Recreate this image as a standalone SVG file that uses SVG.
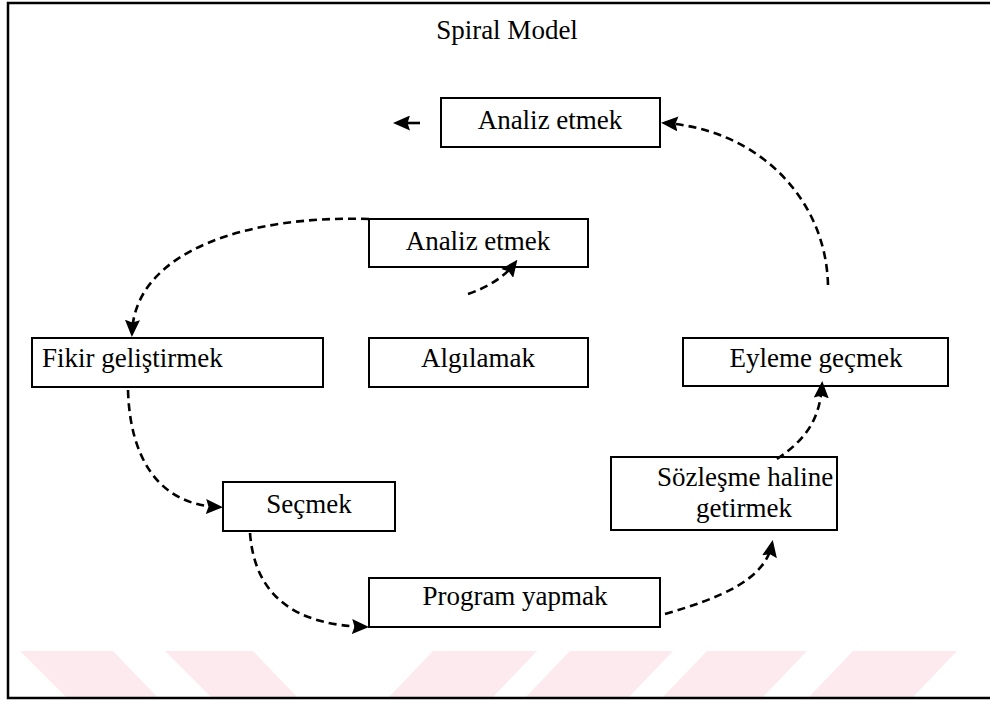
<svg xmlns="http://www.w3.org/2000/svg" width="990" height="701" viewBox="0 0 990 701">
  <style>
    .box { fill: #ffffff; stroke: #000000; stroke-width: 2; }
    .lbl { font-family: 'Liberation Serif', Tinos, 'Times New Roman', 'DejaVu Serif', serif; font-size: 27px; fill: #000000; }
    .mid { text-anchor: middle; }
    .flow { fill: none; stroke: #000000; stroke-width: 2.6; stroke-dasharray: 8 5; }
    .solid { fill: none; stroke: #000000; stroke-width: 2.6; }
    .band { fill: #fdeaee; }
    .frame { stroke: #000000; stroke-width: 2.5; fill: none; }
  </style>
  <defs>
    <marker id="head" viewBox="0 0 17 15" markerUnits="userSpaceOnUse" markerWidth="17" markerHeight="15" refX="13" refY="7.5" orient="auto">
      <path d="M0,0 L17,7.5 L0,15 L2.5,7.5 z" fill="#000000"/>
    </marker>
  </defs>

  <rect x="0" y="0" width="990" height="701" fill="#ffffff"/>

  <!-- pale stripes along the bottom edge -->
  <g id="stripes">
    <polygon class="band" points="20,651 113,651 158,698 67,698"/>
    <polygon class="band" points="165,651 253,651 298,698 212,698"/>
    <polygon class="band" points="433,651 537,651 492,698 388,698"/>
    <polygon class="band" points="570,651 673,651 628,698 525,698"/>
    <polygon class="band" points="707,651 807,651 762,698 662,698"/>
    <polygon class="band" points="853,651 957,651 912,698 808,698"/>
  </g>

  <!-- outer frame: top, left and bottom rules -->
  <g id="frame">
    <path class="frame" d="M990,3 L8,3 L8,698 L990,698"/>
  </g>

  <text id="title" class="lbl mid" x="507" y="39">Spiral Model</text>

  <g id="node-analiz-top">
    <rect class="box" x="441" y="98" width="219" height="49"/>
    <text class="lbl mid" x="550" y="129">Analiz etmek</text>
  </g>

  <g id="node-analiz-mid">
    <rect class="box" x="369" y="219" width="219" height="48"/>
    <text class="lbl mid" x="478" y="250">Analiz etmek</text>
  </g>

  <g id="node-fikir">
    <rect class="box" x="32" y="338" width="291" height="49"/>
    <text class="lbl" x="42" y="367">Fikir geliştirmek</text>
  </g>

  <g id="node-algilamak">
    <rect class="box" x="369" y="338" width="219" height="49"/>
    <text class="lbl mid" x="478" y="367">Algılamak</text>
  </g>

  <g id="node-eyleme">
    <rect class="box" x="683" y="338" width="265" height="48"/>
    <text class="lbl mid" x="816" y="367">Eyleme geçmek</text>
  </g>

  <g id="node-secmek">
    <rect class="box" x="223" y="482" width="172" height="49"/>
    <text class="lbl mid" x="309" y="513">Seçmek</text>
  </g>

  <g id="node-sozlesme">
    <rect class="box" x="611" y="457" width="226" height="73"/>
    <text class="lbl" x="657" y="486">Sözleşme haline</text>
    <text class="lbl mid" x="744" y="517">getirmek</text>
  </g>

  <g id="node-program">
    <rect class="box" x="369" y="578" width="291" height="49"/>
    <text class="lbl mid" x="515" y="605">Program yapmak</text>
  </g>

  <g id="connectors">
    <!-- short solid arrow left of the top box -->
    <path class="solid" d="M420,123 L397,123" marker-end="url(#head)"/>
    <!-- Eyleme geçmek -> Analiz etmek (top) -->
    <path class="flow" d="M828,285 C826,200 760,130 665,123" marker-end="url(#head)"/>
    <!-- Analiz etmek (middle) -> Fikir geliştirmek -->
    <path class="flow" d="M369,219 C250,215 135,250 132,333" marker-end="url(#head)"/>
    <!-- Fikir geliştirmek -> Seçmek -->
    <path class="flow" d="M128,390 C130,460 160,505 219,507" marker-end="url(#head)"/>
    <!-- Seçmek -> Program yapmak -->
    <path class="flow" d="M250,533 C255,600 300,625 365,627" marker-end="url(#head)"/>
    <!-- Program yapmak -> Sözleşme haline getirmek -->
    <path class="flow" d="M665,614 C720,598 765,580 772,544" marker-end="url(#head)"/>
    <!-- Sözleşme haline getirmek -> Eyleme geçmek -->
    <path class="flow" d="M777,459 C805,440 820,420 822,385" marker-end="url(#head)"/>
    <!-- short dashed lead into the middle Analiz etmek box -->
    <path class="flow" d="M468,294 Q500,283 515,263" marker-end="url(#head)"/>
  </g>
</svg>
